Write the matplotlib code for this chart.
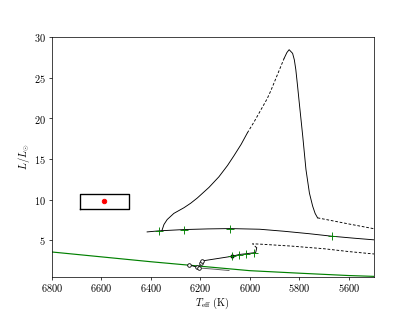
import numpy as np
import matplotlib
matplotlib.use("Agg")
import matplotlib.pyplot as plt

plt.rcParams['font.family'] = 'serif'
plt.rcParams['font.serif'] = ['cmr10', 'DejaVu Serif']
plt.rcParams['mathtext.fontset'] = 'cm'
plt.rcParams['axes.formatter.use_mathtext'] = True
plt.rcParams['axes.unicode_minus'] = False
plt.rcParams['font.size'] = 11.5

# green reference line
zams_T = [6800, 6600, 6400, 6200, 6000, 5800, 5600, 5500]
zams_L = [3.55, 2.95, 2.35, 1.8, 1.25, 0.94, 0.65, 0.55]

# flat track (solid) with green ticks
flat_T = [6415, 6368, 6266, 6170, 6081, 5960, 5861, 5760, 5668, 5580, 5496]
flat_L = [6.02, 6.15, 6.31, 6.39, 6.43, 6.35, 6.1, 5.8, 5.49, 5.25, 5.04]
flat_tick_T = [6368, 6266, 6081, 5668]
flat_tick_L = [6.15, 6.31, 6.43, 5.49]

# big loop, rising part (solid)
rise_T = [6355, 6347, 6334, 6307, 6266, 6239, 6212, 6165, 6125, 6090, 6064, 6035, 6010]
rise_L = [6.2, 6.93, 7.54, 8.3, 9.0, 9.55, 10.2, 11.5, 12.8, 14.2, 15.4, 16.8, 18.2]
# rising part (dashed)
rise_d_T = [6010, 5982, 5956, 5930, 5915, 5888, 5861]
rise_d_L = [18.2, 19.6, 21.0, 22.4, 23.4, 25.4, 27.4]
# peak and descent (solid)
fall_T = [5861, 5850, 5841, 5827, 5820, 5814, 5807, 5800, 5786, 5773, 5759, 5746, 5736, 5726]
fall_L = [27.4, 28.1, 28.45, 28.0, 27.2, 26.0, 24.0, 21.9, 17.8, 13.7, 10.8, 9.2, 8.3, 7.75]
# tail (dashed)
tail_T = [5726, 5600, 5496]
tail_L = [7.75, 7.0, 6.4]

# lower track
low_T = [6250, 6232, 6215, 6205, 6198, 6192, 6070, 6043, 6016, 5985, 5976, 5972]
low_L = [1.9, 1.85, 1.7, 1.55, 2.25, 2.45, 3.03, 3.24, 3.33, 3.45, 3.5, 4.06]
loop_pts_T = [6245, 6215, 6205, 6198, 6192]
loop_pts_L = [1.9, 1.72, 1.52, 2.25, 2.48]
low_tick_T = [6070, 6043, 6016, 5985]
low_tick_L = [3.03, 3.24, 3.33, 3.45]
low_d_T = [5972, 5989, 5950, 5834, 5700, 5600, 5496]
low_d_L = [4.06, 4.56, 4.5, 4.28, 3.95, 3.6, 3.3]

# grey segment
grey_T = [6212, 6150, 6084]
grey_L = [1.6, 1.45, 1.27]

# observed star and its error box
star_T = 6590
star_L = 9.78
box_T = [6688, 6488]
box_L = [8.86, 10.7]

fig, ax = plt.subplots(figsize=(6.4, 4.8), dpi=415 / 6.4)

ax.plot(zams_T, zams_L, color='green', lw=1.3)
ax.plot(flat_T, flat_L, color='black', lw=1.0)
ax.plot(rise_T, rise_L, color='black', lw=1.0)
ax.plot(rise_d_T, rise_d_L, color='black', lw=1.0, ls='--', dashes=(3, 2))
ax.plot(fall_T, fall_L, color='black', lw=1.0)
ax.plot(tail_T, tail_L, color='black', lw=1.0, ls='--', dashes=(3, 2))

ax.plot(grey_T, grey_L, color='0.35', lw=1.0)
ax.plot(low_T, low_L, color='black', lw=1.0)
ax.plot(loop_pts_T, loop_pts_L, 'o', mfc='white', mec='black', ms=4, mew=0.9)
ax.plot(low_d_T, low_d_L, color='black', lw=1.0, ls='--', dashes=(3, 2))
ax.plot(low_tick_T[0], low_tick_L[0], 'o', color='black', ms=3.5)

# green model ticks on top
ax.plot(flat_tick_T, flat_tick_L, '+', color='green', ms=9, mew=1.0, zorder=4)
ax.plot(low_tick_T, low_tick_L, '+', color='green', ms=9, mew=1.0, zorder=4)

ax.plot([box_T[0], box_T[1], box_T[1], box_T[0], box_T[0]],
        [box_L[0], box_L[0], box_L[1], box_L[1], box_L[0]],
        color='black', lw=1.5)
ax.plot(star_T, star_L, 'o', color='red', ms=5)

ax.set_xlim(6800, 5500)
ax.set_ylim(0.5, 30)
ax.set_xticks([6800, 6600, 6400, 6200, 6000, 5800, 5600])
ax.set_yticks([5, 10, 15, 20, 25, 30])
ax.tick_params(axis='x', pad=2.5)
ax.set_xlabel(r'$T_{\rm eff}$ (K)', labelpad=1)
ax.set_ylabel(r'$L/L_{\odot}$', labelpad=2)

fig.savefig('out.png', dpi=415 / 6.4)
